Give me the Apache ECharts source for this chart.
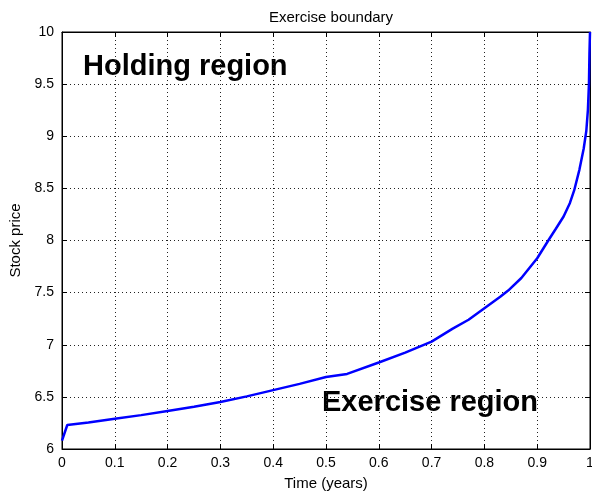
<!DOCTYPE html>
<html>
<head>
<meta charset="utf-8">
<script src="https://cdn.jsdelivr.net/npm/echarts@6/dist/echarts.min.js"></script>
<style>html,body{margin:0;padding:0;background:#fff}#c{width:592px;height:491px}</style>
</head>
<body>
<div id="c"></div>
<script>
const titleText = 'Exercise boundary';
const xLabel = 'Time (years)';
const yLabel = 'Stock price';
const holdingLabel = 'Holding region';
const exerciseLabel = 'Exercise region';

const timeYears = [0, 0.01, 0.05, 0.1, 0.15, 0.2, 0.25, 0.3, 0.35, 0.4, 0.45, 0.5, 0.54, 0.6, 0.65, 0.7, 0.74, 0.77, 0.8, 0.83, 0.845, 0.87, 0.9, 0.921, 0.935, 0.95, 0.962, 0.970, 0.980, 0.988, 0.993, 0.996, 0.998, 0.999, 1.0];
const boundary  = [6.08, 6.23, 6.255, 6.29, 6.325, 6.365, 6.405, 6.45, 6.505, 6.565, 6.625, 6.69, 6.72, 6.83, 6.925, 7.03, 7.155, 7.24, 7.35, 7.46, 7.52, 7.64, 7.83, 8.0, 8.11, 8.23, 8.36, 8.48, 8.68, 8.88, 9.05, 9.25, 9.5, 9.8, 10.0];

const xMin = 0, xMax = 1, xStep = 0.1;
const yMin = 6, yMax = 10, yStep = 0.5;

const font = 'Arial, "Liberation Sans", Helvetica, sans-serif';
const chart = echarts.init(document.getElementById('c'), null, {renderer: 'canvas'});

const gridLine = {show: true, lineStyle: {color: '#222', type: [1, 3], width: 1}};
const axisLine = {show: true, onZero: false, lineStyle: {color: '#000', width: 1}};

chart.setOption({
  animation: false,
  backgroundColor: '#fff',
  title: {
    text: titleText, left: 326, top: 5, textAlign: 'center',
    textStyle: {fontFamily: font, fontSize: 15, fontWeight: 'normal', color: '#000'}
  },
  grid: {left: 62, top: 32, right: 2, bottom: 42, outerBoundsMode: 'none', containLabel: false,
         show: true, borderColor: '#000', borderWidth: 1, backgroundColor: '#fff'},
  xAxis: [{
    type: 'value', min: xMin, max: xMax, interval: xStep,
    name: xLabel, nameLocation: 'middle', nameGap: 27,
    nameTextStyle: {fontFamily: font, fontSize: 15, color: '#000'},
    axisLine: axisLine,
    axisTick: {show: true, inside: true, length: 5, lineStyle: {color: '#000'}},
    axisLabel: {fontFamily: font, fontSize: 14, color: '#000', margin: 7},
    splitLine: gridLine
  }, {
    type: 'value', position: 'top', min: xMin, max: xMax, interval: xStep,
    axisLine: axisLine,
    axisTick: {show: true, inside: true, length: 5, lineStyle: {color: '#000'}},
    axisLabel: {show: false}, splitLine: {show: false}
  }],
  yAxis: [{
    type: 'value', min: yMin, max: yMax, interval: yStep,
    name: yLabel, nameLocation: 'middle', nameGap: 35, nameRotate: 90,
    nameTextStyle: {fontFamily: font, fontSize: 15, color: '#000'},
    axisLine: axisLine,
    axisTick: {show: true, inside: true, length: 5, lineStyle: {color: '#000'}},
    axisLabel: {fontFamily: font, fontSize: 14, color: '#000', margin: 8},
    splitLine: gridLine
  }, {
    type: 'value', position: 'right', min: yMin, max: yMax, interval: yStep,
    axisLine: axisLine,
    axisTick: {show: true, inside: true, length: 5, lineStyle: {color: '#000'}},
    axisLabel: {show: false}, splitLine: {show: false}
  }],
  series: [{
    type: 'line',
    data: timeYears.map((t, i) => [t, boundary[i]]),
    showSymbol: false, smooth: false,
    lineStyle: {color: '#0000ff', width: 2.5},
    itemStyle: {color: '#0000ff'},
    clip: true
  }],
  graphic: [
    {type: 'text', left: 83, top: 52, style: {text: holdingLabel, font: 'bold 29px ' + font, fill: '#000'}},
    {type: 'text', left: 322, top: 388, style: {text: exerciseLabel, font: 'bold 29px ' + font, fill: '#000'}}
  ]
});
</script>
</body>
</html>
